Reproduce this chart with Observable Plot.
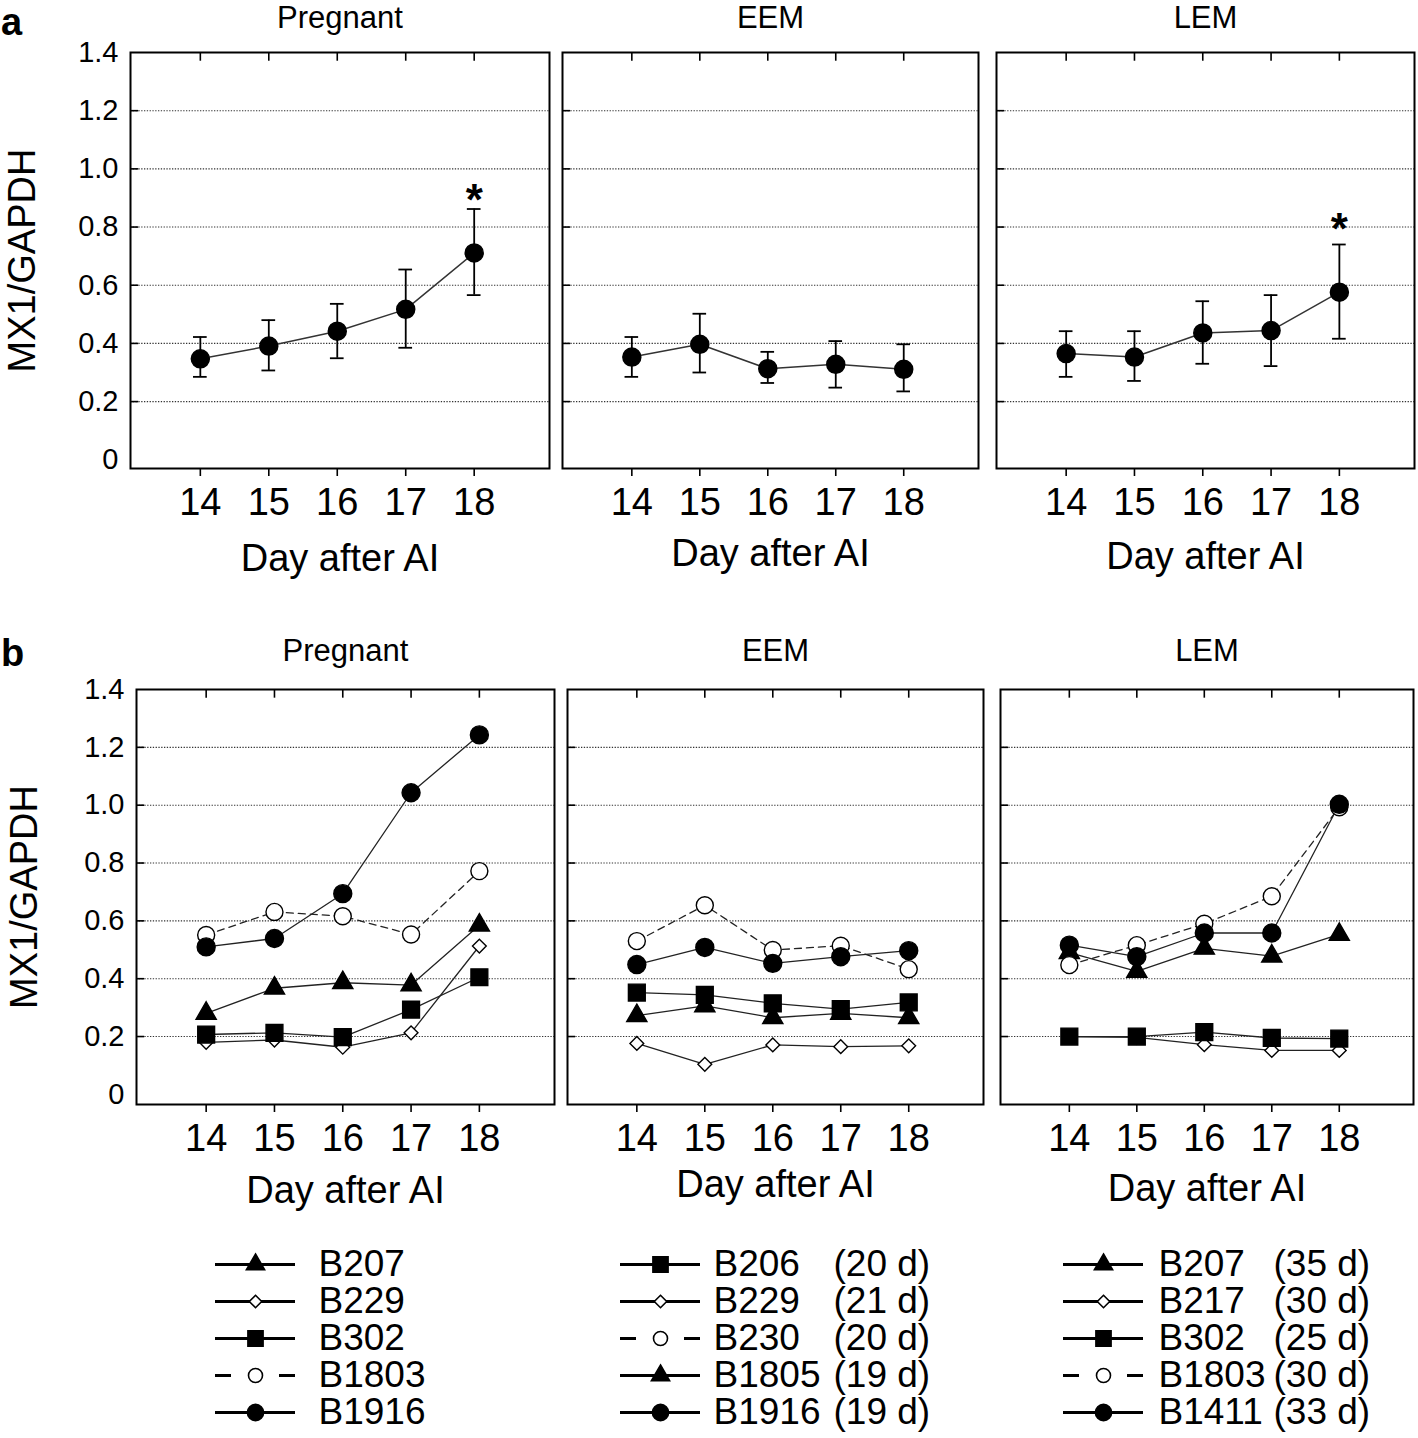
<!DOCTYPE html>
<html>
<head>
<meta charset="utf-8">
<script src="https://cdn.jsdelivr.net/npm/d3@7"></script>
<script src="https://cdn.jsdelivr.net/npm/@observablehq/plot@0.6"></script>
<style>
  html, body { margin: 0; padding: 0; background: #fff; }
  #root { position: relative; width: 1418px; height: 1438px; background: #fff; overflow: hidden;
          font-family: "Liberation Sans", Arial, Helvetica, sans-serif; }
  #root svg { position: absolute; overflow: visible; background: transparent; }
  .letter { position: absolute; font-weight: bold; font-size: 38px; line-height: 1.15; color: #000; }
</style>
</head>
<body>
<div id="root">
  <div class="letter" style="left:1px; top:1px;">a</div>
  <div class="letter" style="left:1px; top:632px;">b</div>
</div>
<script>
// ---------------- data ----------------
const days = [14, 15, 16, 17, 18];
const groups = ["Pregnant", "EEM", "LEM"];
const yTickVals = [0, 0.2, 0.4, 0.6, 0.8, 1.0, 1.2, 1.4];
const gridVals = [0.2, 0.4, 0.6, 0.8, 1.0, 1.2];
const xLabel = "Day after AI";
const yLabel = "MX1/GAPDH";

// panel a: mean ± error
const meanPregnant = [0.347, 0.391, 0.442, 0.517, 0.711];
const loPregnant   = [0.285, 0.307, 0.349, 0.385, 0.566];
const hiPregnant   = [0.422, 0.480, 0.536, 0.654, 0.862];
const meanEEM = [0.353, 0.397, 0.313, 0.328, 0.311];
const loEEM   = [0.285, 0.300, 0.264, 0.248, 0.235];
const hiEEM   = [0.422, 0.502, 0.371, 0.408, 0.397];
const meanLEM = [0.365, 0.353, 0.436, 0.444, 0.576];
const loLEM   = [0.285, 0.271, 0.330, 0.322, 0.416];
const hiLEM   = [0.442, 0.442, 0.545, 0.566, 0.740];
// significance stars
const starGroups = ["Pregnant", "LEM"];
const starDays = [18, 18];
const starLevels = [0.926, 0.829];

// panel b: individual cows
const cowsPregnant = ["B207", "B229", "B302", "B1803", "B1916"];
const valsPregnant = [
  [0.280, 0.367, 0.386, 0.378, 0.585],
  [0.180, 0.188, 0.163, 0.213, 0.513],
  [0.207, 0.213, 0.198, 0.293, 0.405],
  [0.551, 0.631, 0.616, 0.553, 0.772],
  [0.510, 0.539, 0.694, 1.043, 1.243]
];
const cowsEEM = ["B206", "B229", "B230", "B1805", "B1916"];
const lutealEEM = ["(20 d)", "(21 d)", "(20 d)", "(19 d)", "(19 d)"];
const valsEEM = [
  [0.352, 0.344, 0.315, 0.295, 0.318],
  [0.176, 0.104, 0.171, 0.165, 0.168],
  [0.530, 0.654, 0.499, 0.514, 0.433],
  [0.272, 0.306, 0.265, 0.280, 0.265],
  [0.449, 0.508, 0.453, 0.476, 0.497]
];
const cowsLEM = ["B207", "B217", "B302", "B1803", "B1411"];
const lutealLEM = ["(35 d)", "(30 d)", "(25 d)", "(30 d)", "(33 d)"];
const valsLEM = [
  [0.490, 0.425, 0.505, 0.478, 0.553],
  [0.200, 0.197, 0.172, 0.152, 0.152],
  [0.200, 0.200, 0.215, 0.195, 0.193],
  [0.447, 0.516, 0.590, 0.685, 0.993],
  [0.516, 0.476, 0.558, 0.558, 1.003]
];

// ---------------- styles ----------------
const FONT = '"Liberation Sans", Arial, Helvetica, sans-serif';
const XDOM = [12.98, 19.1];
const symbolsOrderPreg = ["triangle", "diamond2", "square", "circle", "circle"];
const symbolsOrderEEM  = ["square", "diamond2", "circle", "triangle", "circle"];
const symbolsOrderLEM  = ["triangle", "diamond2", "square", "circle", "circle"];
const filledPreg = [true, false, true, false, true];
const filledEEM  = [true, false, false, true, true];
const filledLEM  = [true, false, true, false, true];
const symR = {triangle: 7.5, diamond2: 6.2, square: 9.5, circle: 9};

const root = document.getElementById("root");

function place(svg, left, top) {
  svg.style.left = left + "px";
  svg.style.top = top + "px";
  root.appendChild(svg);
}

function panel(cfg) {
  const {left, top, w, h, ymin, showY, title, titleDy, labelDy, yLabelDx, dataMarks} = cfg;
  const mL = showY ? left : 20, mT = 60, mR = 20, mB = 120;
  const marks = [
    Plot.ruleY(gridVals, {y: d => d, stroke: "#333", strokeWidth: 1.1, strokeDasharray: "1.3,1.5"}),
    Plot.ruleY(gridVals, {y: d => d, x1: XDOM[0], x2: XDOM[0] + 0.12, stroke: "#000", strokeWidth: 1.6}),
    Plot.ruleX(days, {x: d => d, y1: 1.4, y2: 1.4 - 0.03, stroke: "#000", strokeWidth: 1.6}),
    Plot.axisX({ticks: days, tickSize: 8, tickPadding: 12, fontSize: 38, label: null, strokeWidth: 1.6,
                tickFormat: d => String(d)}),
    ...dataMarks,
    Plot.frame({stroke: "#000", strokeWidth: 2}),
    Plot.text([title], {text: d => d, frameAnchor: "top", dy: titleDy, fontSize: 31, lineAnchor: "middle"}),
    Plot.text([xLabel], {text: d => d, frameAnchor: "bottom", dy: labelDy, fontSize: 38, lineAnchor: "middle"})
  ];
  if (showY) {
    marks.push(Plot.axisY({ticks: yTickVals, tickFormat: d => d === 0 ? "0" : d.toFixed(1),
                           tickSize: 0, tickPadding: 12, fontSize: 29, label: null}));
    marks.push(Plot.text([yLabel], {text: d => d, frameAnchor: "left", rotate: -90, dx: yLabelDx,
                                    fontSize: 38, textAnchor: "middle", lineAnchor: "middle"}));
  }
  const svg = Plot.plot({
    width: mL + w + mR, height: mT + h + mB,
    marginLeft: mL, marginRight: mR, marginTop: mT, marginBottom: mB,
    style: {fontFamily: FONT, background: "transparent", overflow: "visible", color: "#000"},
    x: {domain: XDOM},
    y: showY ? {domain: [ymin, 1.4]} : {domain: [ymin, 1.4], axis: null},
    marks
  });
  place(svg, left - mL, top - mT);
}

// ---------------- panel a ----------------
function meanMarks(group, mean, lo, hi) {
  const rows = days.map((d, i) => ({day: d, mean: mean[i], lo: lo[i], hi: hi[i]}));
  const stars = starGroups.map((g, i) => ({g, day: starDays[i], y: starLevels[i]})).filter(s => s.g === group);
  return [
    Plot.line(rows, {x: "day", y: "mean", stroke: "#333", strokeWidth: 1.5}),
    Plot.ruleX(rows, {x: "day", y1: "lo", y2: "hi", stroke: "#000", strokeWidth: 1.8}),
    Plot.ruleY(rows, {y: "hi", x1: d => d.day - 0.1, x2: d => d.day + 0.1, stroke: "#000", strokeWidth: 1.8}),
    Plot.ruleY(rows, {y: "lo", x1: d => d.day - 0.1, x2: d => d.day + 0.1, stroke: "#000", strokeWidth: 1.8}),
    Plot.dot(rows, {x: "day", y: "mean", r: 9, fill: "#000", stroke: "#000"}),
    Plot.text(stars, {x: "day", y: "y", text: () => "*", dy: 11, fontSize: 44, fontWeight: "bold"})
  ];
}

const rowA = {top: 52, h: 416, ymin: -0.03, titleDy: -34};
panel({...rowA, left: 130, w: 419, showY: true, title: groups[0], labelDy: 90, yLabelDx: -108,
       dataMarks: meanMarks("Pregnant", meanPregnant, loPregnant, hiPregnant)});
panel({...rowA, left: 562, w: 416, showY: false, title: groups[1], labelDy: 85,
       dataMarks: meanMarks("EEM", meanEEM, loEEM, hiEEM)});
panel({...rowA, left: 996, w: 418, showY: false, title: groups[2], labelDy: 88,
       dataMarks: meanMarks("LEM", meanLEM, loLEM, hiLEM)});

// ---------------- panel b ----------------
function cowMarks(cows, vals, syms, filled) {
  const lines = [], dots = [];
  cows.forEach((name, k) => {
    const rows = days.map((d, i) => ({day: d, v: vals[k][i], name}));
    const dashed = syms[k] === "circle" && !filled[k];
    lines.push(Plot.line(rows, {x: "day", y: "v", stroke: "#222", strokeWidth: 1.3,
                                strokeDasharray: dashed ? "7,5" : null}));
    const r = syms[k] === "circle" && !filled[k] ? 8.5 : symR[syms[k]];
    dots.push(Plot.dot(rows, {x: "day", y: "v", symbol: syms[k], r,
                              fill: filled[k] ? "#000" : "#fff", stroke: "#000", strokeWidth: 1.4}));
  });
  return [...lines, ...dots];
}

const rowB = {top: 689, h: 415, ymin: -0.035, titleDy: -38};
panel({...rowB, left: 136, w: 418, showY: true, title: groups[0], labelDy: 86, yLabelDx: -112,
       dataMarks: cowMarks(cowsPregnant, valsPregnant, symbolsOrderPreg, filledPreg)});
panel({...rowB, left: 567, w: 416, showY: false, title: groups[1], labelDy: 80,
       dataMarks: cowMarks(cowsEEM, valsEEM, symbolsOrderEEM, filledEEM)});
panel({...rowB, left: 1000, w: 413, showY: false, title: groups[2], labelDy: 84,
       dataMarks: cowMarks(cowsLEM, valsLEM, symbolsOrderLEM, filledLEM)});

// ---------------- legends ----------------
function legend(left, cows, syms, filled, luteal, nameX, lutealX) {
  const entries = cows.map((name, k) => ({name, sym: syms[k], filled: filled[k],
                                          dashed: syms[k] === "circle" && !filled[k],
                                          luteal: luteal ? luteal[k] : ""}));
  const marks = [
    Plot.ruleY(entries.filter(e => !e.dashed), {y: "name", x1: 0, x2: 80, stroke: "#000", strokeWidth: 3}),
    Plot.ruleY(entries.filter(e => e.dashed), {y: "name", x1: 0, x2: 80, stroke: "#000", strokeWidth: 3,
                                                strokeDasharray: "16,48,16"})
  ];
  entries.forEach(e => {
    const r = e.sym === "circle" && !e.filled ? 7 : symR[e.sym] * 0.9;
    marks.push(Plot.dot([e], {x: () => 40, y: "name", symbol: e.sym, r,
                              fill: e.filled ? "#000" : "#fff", stroke: "#000", strokeWidth: 1.6}));
  });
  marks.push(Plot.text(entries, {x: () => nameX, y: "name", text: "name", textAnchor: "start", fontSize: 37}));
  if (luteal) marks.push(Plot.text(entries, {x: () => lutealX, y: "name", text: "luteal", textAnchor: "start", fontSize: 37}));
  const svg = Plot.plot({
    width: 400, height: 190, margin: 0,
    style: {fontFamily: FONT, background: "transparent", overflow: "visible", color: "#000"},
    x: {type: "identity", axis: null},
    y: {type: "point", domain: cows, range: [17, 168], padding: 0, axis: null},
    marks
  });
  place(svg, left, 1245);
}
legend(215, cowsPregnant, symbolsOrderPreg, filledPreg, null, 103, 0);
legend(620, cowsEEM, symbolsOrderEEM, filledEEM, lutealEEM, 93, 213);
legend(1063, cowsLEM, symbolsOrderLEM, filledLEM, lutealLEM, 95, 210);
</script>
</body>
</html>
